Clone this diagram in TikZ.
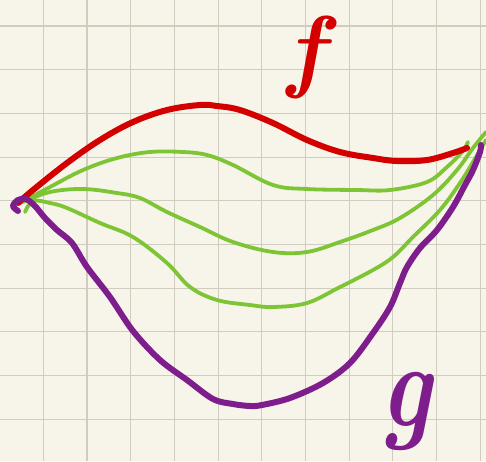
\documentclass[tikz,border=0pt]{standalone}
\definecolor{paper}{HTML}{F7F5EA}
\definecolor{gridc}{HTML}{D0CDC0}
\definecolor{fred}{HTML}{D40000}
\definecolor{gpurple}{HTML}{7D1E8C}
\definecolor{hgreen}{HTML}{7DC534}
\tikzset{
  fcurve/.style={draw=fred, line width=6pt, line cap=round, line join=round},
  gcurve/.style={draw=gpurple, line width=6pt, line cap=round, line join=round},
  hcurve/.style={draw=hgreen, line width=3.8pt, line cap=round, line join=round},
  gridline/.style={draw=gridc, line width=1.1pt},
}
\begin{document}
\begin{tikzpicture}[x=1pt,y=-1pt]
\fill[paper] (0,0) rectangle (486,461);
\useasboundingbox (0,0) rectangle (486,461);
\foreach \i in {0,...,11} {
  \draw[gridline] ({43.3+43.7*(\i-1)},0) -- ({43.3+43.7*(\i-1)},461);
}
\foreach \i in {0,...,10} {
  \draw[gridline] (0,{26+43.7*\i}) -- (486,{26+43.7*\i});
}
% green curves
\draw[hcurve] plot[smooth,tension=0.6] coordinates {(20,203) (50,187) (83,170) (117,158) (150,152) (183,152) (207,155) (233,165) (273,185) (307,189) (357,190) (390,190) (427,182) (447,167) (462,152) (468,142)};
\draw[hcurve] plot[smooth,tension=0.6] coordinates {(23,202) (50,192) (83,189) (117,193) (140,198) (167,212) (200,227) (233,242) (273,252) (307,252) (340,242) (373,230) (400,218) (433,195) (457,170) (473,148) (486,132)};
\draw[hcurve] plot[smooth,tension=0.6] coordinates {(25,212) (33,201) (50,203) (67,208) (100,223) (133,237) (167,263) (190,287) (217,300) (250,305) (273,307) (307,303) (340,287) (373,270) (393,257) (413,237) (440,210) (460,183) (473,162) (486,140)};
% red curve f
\draw[fcurve] plot[smooth,tension=0.6] coordinates {(18,203) (33,190) (67,163) (100,140) (133,122) (167,110) (200,105) (217,106) (240,110) (273,123) (307,140) (340,152) (373,158) (397,161) (427,160) (453,153) (467,148)};
% purple curve g
\draw[gcurve] plot[smooth,tension=0.55] coordinates {(18,211) (13,206) (18,200) (26,199) (35,206) (45,218) (57,230) (72,243) (87,267) (110,297) (133,331) (160,360) (187,380) (213,399) (233,404) (250,406) (262,405) (290,398) (323,383) (350,363) (373,333) (390,307) (400,283) (407,267) (420,248) (437,230) (453,207) (465,185) (473,170) (480,152) (481,145)};
% labels
\node[text=fred, font=\fontsize{92}{92}\selectfont\bfseries\itshape, anchor=base] (flab) at (306,80) {f};
\node[text=gpurple, font=\fontsize{96}{96}\selectfont\bfseries\itshape, yscale=1.25, anchor=base] (glab) at (406,426) {g};
\end{tikzpicture}
\end{document}
